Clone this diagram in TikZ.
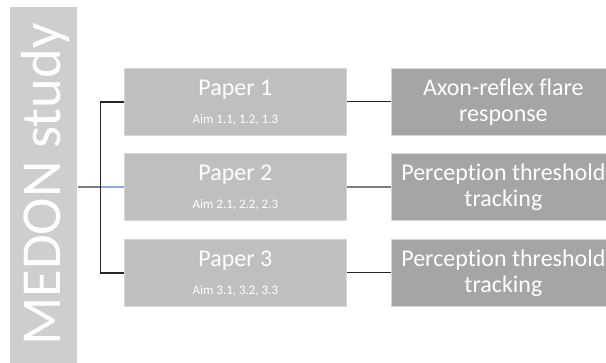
\documentclass[tikz,border=0pt]{standalone}
\usepackage{fontspec}
\setmainfont[Ligatures=NoCommon]{Carlito}
\definecolor{barc}{HTML}{CFCDCE}
\definecolor{paperc}{HTML}{BFBFBF}
\definecolor{resc}{HTML}{A5A5A5}
\definecolor{edgec}{HTML}{D6D6D6}
\definecolor{bluec}{HTML}{8FAADC}
\definecolor{linec}{HTML}{262626}
\definecolor{greyline}{HTML}{7F7F7F}
\begin{document}
\begin{tikzpicture}[x=1pt,y=-1pt,
  box/.style={draw=edgec, line width=0.8pt, inner sep=0pt, anchor=north west},
  paperbox/.style={box, fill=paperc, minimum width=222pt, minimum height=67pt},
  resbox/.style={box, fill=resc, minimum width=224pt, minimum height=67pt},
  big/.style={text=white, inner sep=0pt, anchor=base, font=\fontsize{24}{26}\selectfont},
  small/.style={text=white, inner sep=0pt, anchor=base, font=\fontsize{13}{15}\selectfont},
  conn/.style={draw=linec, line width=1pt}]
\useasboundingbox (0,0) rectangle (606,362);
\clip (0,0) rectangle (606,362);
% study bar
\node[box, draw=none, fill=barc, minimum width=67pt, minimum height=365pt] (bar) at (10,7) {};
\node[rotate=90, anchor=base, inner sep=0pt, text=white, font=\fontsize{56.5}{60}\selectfont] (mt) at (60.5,184.5) {MEDON study};
% paper boxes
\node[paperbox] (p1) at (124,68) {};
\node[paperbox] (p2) at (124,153) {};
\node[paperbox] (p3) at (124,239) {};
% result boxes
\node[resbox] (r1) at (391,68) {};
\node[resbox] (r2) at (391,153) {};
\node[resbox] (r3) at (391,239) {};
% paper texts
\node[big] (p1t) at ([yshift=6pt]p1.center) {Paper 1};
\node[small] (p1s) at ([yshift=-21.5pt]p1.center) {Aim 1.1, 1.2, 1.3};
\node[big] (p2t) at ([yshift=6pt]p2.center) {Paper 2};
\node[small] (p2s) at ([yshift=-21.5pt]p2.center) {Aim 2.1, 2.2, 2.3};
\node[big] (p3t) at ([yshift=6pt]p3.center) {Paper 3};
\node[small] (p3s) at ([yshift=-21.5pt]p3.center) {Aim 3.1, 3.2, 3.3};
% result texts
\node[big] (r1a) at ([yshift=6.5pt]r1.center) {Axon-reflex flare};
\node[big] (r1b) at ([yshift=-20pt]r1.center) {response};
\node[big] (r2a) at ([yshift=6.5pt]r2.center) {Perception threshold};
\node[big] (r2b) at ([yshift=-20pt]r2.center) {tracking};
\node[big] (r3a) at ([yshift=6.5pt]r3.center) {Perception threshold};
\node[big] (r3b) at ([yshift=-20pt]r3.center) {tracking};
% connectors
\coordinate (j) at (100.5,187);
\draw[draw=greyline, line width=1.5pt] (bar.east |- j) -- (j);
\draw[draw=bluec, line width=1.2pt] (j) -- (p2.west |- j);
\draw[conn, line width=1.3pt] (p1.west) -- (p1.west -| j) -- (p3.west -| j) -- (p3.west);
\draw[conn] (p1.east) -- (r1.west);
\draw[conn, draw=greyline, line width=1.3pt] (p2.east) -- (r2.west);
\draw[conn] (p3.east) -- (r3.west);
\end{tikzpicture}
\end{document}
